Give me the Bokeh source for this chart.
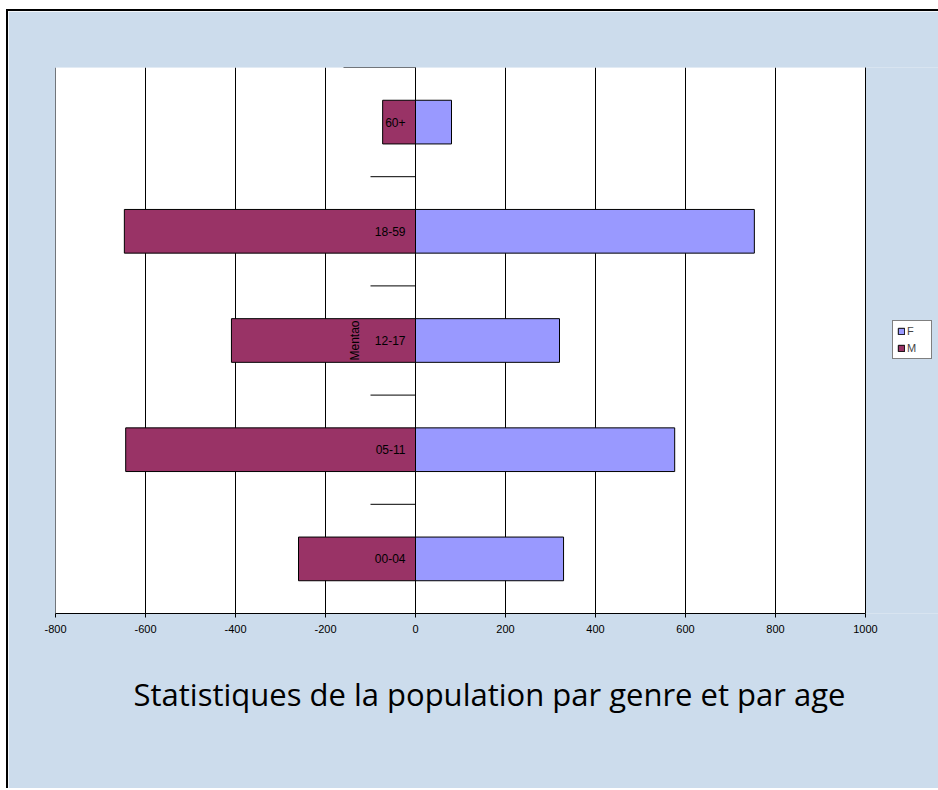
from bokeh.plotting import figure
from bokeh.models import (Range1d, Legend, LegendItem, Title, Span, FixedTicker,
                          BoxAnnotation)
from bokeh.core.properties import value
from bokeh.embed import file_html
from bokeh.resources import INLINE
import numpy as np

categories = ["00-04", "05-11", "12-17", "18-59", "60+"]
female = [329, 576, 320, 753, 80]
male = [-260, -644, -409, -647, -73]
x_ticks = [-800, -600, -400, -200, 0, 200, 400, 600, 800, 1000]
title_text = "Statistiques de la population par genre et par age"
axis_title = "Mentao"
series_labels = ["F", "M"]

n = len(categories)
ypos = [i + 0.5 for i in range(n)]
BG = "#CCDCEC"
FONT = "Liberation Sans"

W, H = 936, 779
LEFT = 47
PLOT_PX = 810          # pixel width of the white plot area
FRAME_PX = W - LEFT    # frame extends to the right edge (room for the legend)
x_start = x_ticks[0]
x_end = x_ticks[0] + (x_ticks[-1] - x_ticks[0]) * FRAME_PX / PLOT_PX

p = figure(width=W, height=H,
           x_range=Range1d(x_start, x_end), y_range=Range1d(0, n),
           output_backend="svg", toolbar_location=None,
           min_border_left=LEFT, min_border_right=0,
           min_border_top=56, min_border_bottom=177)
p.styles = {"border-top": "2px solid black", "border-left": "2px solid black",
            "margin-left": "6px", "margin-top": "9px"}
p.background_fill_color = BG
p.border_fill_color = BG
p.outline_line_color = None

# white plot area spanning the value axis
p.add_layout(BoxAnnotation(left=x_ticks[0], right=x_ticks[-1],
                           fill_color="white", fill_alpha=1.0,
                           line_color=None, level="image"))
for edge in (x_ticks[0], x_ticks[-1]):
    p.add_layout(Span(location=edge, dimension="height",
                      line_color="black", line_width=1, level="underlay"))

rf = p.hbar(y=ypos, left=0, right=female, height=0.4,
            fill_color="#9999FF", line_color="black", line_width=1)
rm = p.hbar(y=ypos, left=0, right=male, height=0.4,
            fill_color="#993366", line_color="black", line_width=1)

# vertical category axis at zero
p.add_layout(Span(location=0, dimension="height", line_color="black", line_width=1))
bounds = list(range(n + 1))
tick_len = [-160 if (b == 0 or b == n) else -100 for b in bounds]
p.segment(x0=tick_len, y0=bounds, x1=[0] * len(bounds), y1=bounds,
          line_color="black", line_width=1)

p.text(x=[0] * n, y=ypos, text=categories, x_offset=-10,
       text_align="right", text_baseline="middle",
       text_font=value(FONT), text_font_size="12px", text_color="black")

p.text(x=[0], y=[n / 2], text=[axis_title], angle=np.pi / 2, x_offset=-61,
       text_align="center", text_baseline="middle",
       text_font=value(FONT), text_font_size="12px", text_color="black")

p.yaxis.visible = False
p.ygrid.visible = False
p.xgrid.ticker = FixedTicker(ticks=x_ticks)
p.xgrid.grid_line_color = "black"
p.xgrid.grid_line_alpha = 1.0

ax = p.xaxis[0]
ax.ticker = FixedTicker(ticks=x_ticks)
ax.bounds = (x_ticks[0], x_ticks[-1])
ax.major_label_overrides = {t: str(t) for t in x_ticks}
ax.axis_line_color = "black"
ax.major_tick_line_color = "black"
ax.major_tick_out = 4
ax.major_tick_in = 0
ax.minor_tick_line_color = None
ax.major_label_standoff = 7
ax.major_label_text_font = FONT
ax.major_label_text_font_size = "11px"
ax.major_label_text_color = "black"

legend = Legend(items=[LegendItem(label=series_labels[0], renderers=[rf]),
                       LegendItem(label=series_labels[1], renderers=[rm])],
                location=(837, 254), orientation="vertical",
                glyph_width=8, glyph_height=8, label_text_font=FONT,
                label_text_font_size="11px", label_height=10, label_standoff=2,
                padding=4, spacing=5, margin=0,
                border_line_color="black", border_line_width=1,
                background_fill_color="white", background_fill_alpha=1)
p.add_layout(legend, "center")

title = Title(text=title_text, align="left", offset=78, standoff=70,
              text_font="Open Sans", text_font_size="31px",
              text_font_style="normal", text_color="black")
p.add_layout(title, "below")

open("out.html", "w").write(file_html(p, INLINE))
